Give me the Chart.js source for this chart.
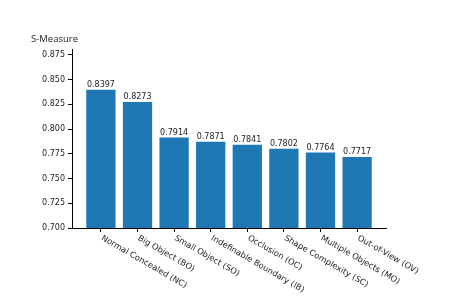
<!DOCTYPE html>
<html>
<head>
<meta charset="utf-8">
<script src="https://cdn.jsdelivr.net/npm/chart.js@4"></script>
<style>
  html, body { margin: 0; padding: 0; background: #fff; }
  #wrap { width: 463px; height: 300px; position: relative; }
</style>
</head>
<body>
<div id="wrap"><canvas id="chartSMeasure"></canvas></div>
<script>
const categories = [
    'Normal Concealed (NC)', 'Big Object (BO)', 'Small Object (SO)',
    'Indefinable Boundary (IB)', 'Occlusion (OC)', 'Shape Complexity (SC)',
    'Multiple Objects (MO)', 'Out-of-View (OV)'
];
const scores = [0.8397, 0.8273, 0.7914, 0.7871, 0.7841, 0.7802, 0.7764, 0.7717];
const yTicks = [0.700, 0.725, 0.750, 0.775, 0.800, 0.825, 0.850, 0.875];
const yTitle = 'S-Measure';

const tickFont = { family: 'DejaVu Sans', size: 8 };

// bar value labels, rotated category labels and the y title
const extras = {
    id: 'extras',
    afterDatasetsDraw(chart) {
        const c = chart.ctx;
        const xs = chart.scales.x;
        const bottom = chart.chartArea.bottom;
        c.save();
        c.fillStyle = '#222';
        c.font = '8px "DejaVu Sans"';
        c.textAlign = 'center';
        c.textBaseline = 'bottom';
        chart.getDatasetMeta(0).data.forEach((bar, i) => {
            c.fillText(scores[i].toFixed(4), bar.x, bar.y - 1);
        });

        c.font = '8.3px "DejaVu Sans"';
        c.textAlign = 'left';
        c.textBaseline = 'top';
        categories.forEach((name, i) => {
            c.save();
            c.translate(xs.getPixelForValue(i) + 3, bottom + 6);
            c.rotate(Math.PI / 6);
            c.fillText(name, 0, 0);
            c.restore();
        });

        c.font = '9.5px "Open Sans"';
        c.textBaseline = 'alphabetic';
        c.fillText(yTitle, 31, 42);
        c.restore();
    }
};

new Chart(document.getElementById('chartSMeasure'), {
    type: 'bar',
    data: {
        datasets: [{
            data: scores.map((v, i) => ({ x: i, y: v })),
            backgroundColor: '#1f77b4',
            borderWidth: 0,
            barPercentage: 0.8,
            categoryPercentage: 1
        }]
    },
    options: {
        responsive: true,
        maintainAspectRatio: false,
        animation: false,
        layout: { padding: { left: 0, right: 77, top: 49, bottom: 0 } },
        plugins: { legend: { display: false }, tooltip: { enabled: false } },
        scales: {
            x: {
                type: 'linear',
                offset: false,
                min: -0.79,
                max: 7.79,
                afterBuildTicks(scale) {
                    scale.ticks = categories.map((_, i) => ({ value: i }));
                },
                afterFit(scale) { scale.height = 72; },
                ticks: { display: false },
                grid: {
                    display: true, offset: false, drawOnChartArea: false, drawTicks: true,
                    tickLength: 4, color: '#000'
                },
                border: { display: true, color: '#000', width: 1 }
            },
            y: {
                min: 0.7,
                max: 0.881,
                afterBuildTicks(scale) {
                    scale.ticks = yTicks.map(v => ({ value: v }));
                },
                afterFit(scale) { scale.width = 72; },
                ticks: {
                    font: tickFont,
                    color: '#222',
                    padding: 3,
                    callback: v => Number(v).toFixed(3)
                },
                grid: {
                    display: true, drawOnChartArea: false, drawTicks: true,
                    tickLength: 4, color: '#000'
                },
                border: { display: true, color: '#000', width: 1 }
            }
        }
    },
    plugins: [extras]
});
</script>
</body>
</html>
